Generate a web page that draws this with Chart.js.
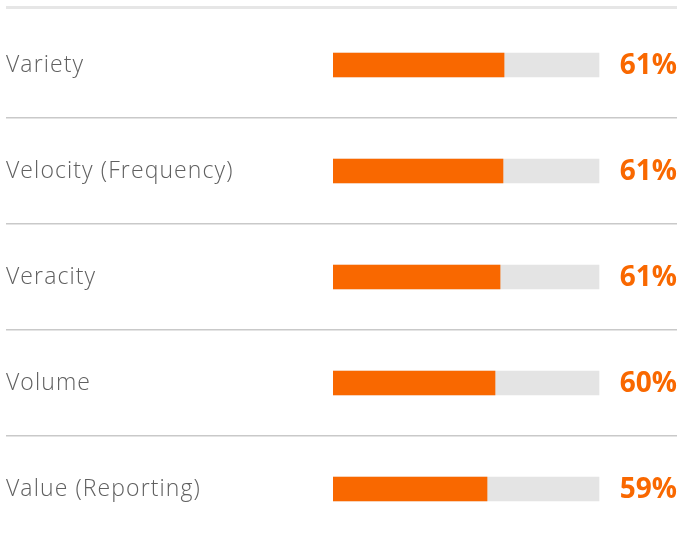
<!DOCTYPE html>
<html>
<head>
<meta charset="utf-8">
<script src="https://cdn.jsdelivr.net/npm/chart.js@4"></script>
<style>
  html, body { margin: 0; padding: 0; background: #fff; overflow: hidden; }
  #topRule { position: absolute; left: 6px; right: 4px; top: 6px; border-top: 3px solid #e6e6e6; }
  #wrap { position: absolute; left: 0; top: 10px; width: 681px; height: 532px; }
</style>
</head>
<body>
<div id="topRule"></div>
<div id="wrap"><canvas id="barChart"></canvas></div>
<script>
const categories = ["Variety", "Velocity (Frequency)", "Veracity", "Volume", "Value (Reporting)"];
// bar lengths (share of the grey track)
const barValues = [64.3, 63.9, 62.8, 60.9, 57.9];
const pctLabels = ["61%", "61%", "61%", "60%", "59%"];
const trackValues = [100, 100, 100, 100, 100];

const ORANGE = "#f96800";

// track is 266px wide from x=333; the chart area runs on to x=677
const xMax = 100 * (677 - 333) / (599 - 333);

const spacingPlugin = {
  id: "labelSpacing",
  beforeDraw(chart) {
    chart.ctx.letterSpacing = "1.1px";
  }
};

const pctPlugin = {
  id: "pctLabels",
  afterDatasetsDraw(chart) {
    const ctx = chart.ctx;
    const meta = chart.getDatasetMeta(0);
    ctx.save();
    ctx.letterSpacing = "0px";
    ctx.fillStyle = ORANGE;
    ctx.font = "bold 28px 'Open Sans'";
    ctx.textAlign = "right";
    ctx.textBaseline = "middle";
    meta.data.forEach((bar, i) => {
      ctx.fillText(pctLabels[i], chart.chartArea.right, bar.y + 1);
    });
    ctx.restore();
  }
};

const sepColor = (c) => (c.type === "tick" && c.index > 0) ? "#c9c9c9" : "rgba(0,0,0,0)";

new Chart(document.getElementById("barChart"), {
  type: "bar",
  data: {
    labels: categories,
    datasets: [
      {
        data: barValues,
        backgroundColor: ORANGE,
        barThickness: 24,
        grouped: false,
        order: 0
      },
      {
        data: trackValues,
        backgroundColor: "#e4e4e4",
        barThickness: 24,
        grouped: false,
        order: 1
      }
    ]
  },
  options: {
    indexAxis: "y",
    responsive: true,
    maintainAspectRatio: false,
    animation: false,
    layout: { padding: { left: 6, right: 4, top: 2, bottom: 0 } },
    plugins: {
      legend: { display: false },
      tooltip: { enabled: false }
    },
    scales: {
      x: {
        display: false,
        min: 0,
        max: xMax
      },
      y: {
        border: { display: false },
        grid: {
          offset: true,
          drawOnChartArea: true,
          drawTicks: true,
          tickLength: 327,
          color: sepColor,
          tickColor: sepColor,
          lineWidth: 1.5
        },
        ticks: {
          crossAlign: "far",
          padding: 0,
          color: "#606060",
          font: { family: "'Open Sans'", size: 23, weight: 300 }
        },
        afterFit(scale) {
          scale.width = 327;
          scale.paddingTop = 0;
          scale.paddingBottom = 0;
        }
      }
    }
  },
  plugins: [spacingPlugin, pctPlugin]
});
</script>
</body>
</html>
